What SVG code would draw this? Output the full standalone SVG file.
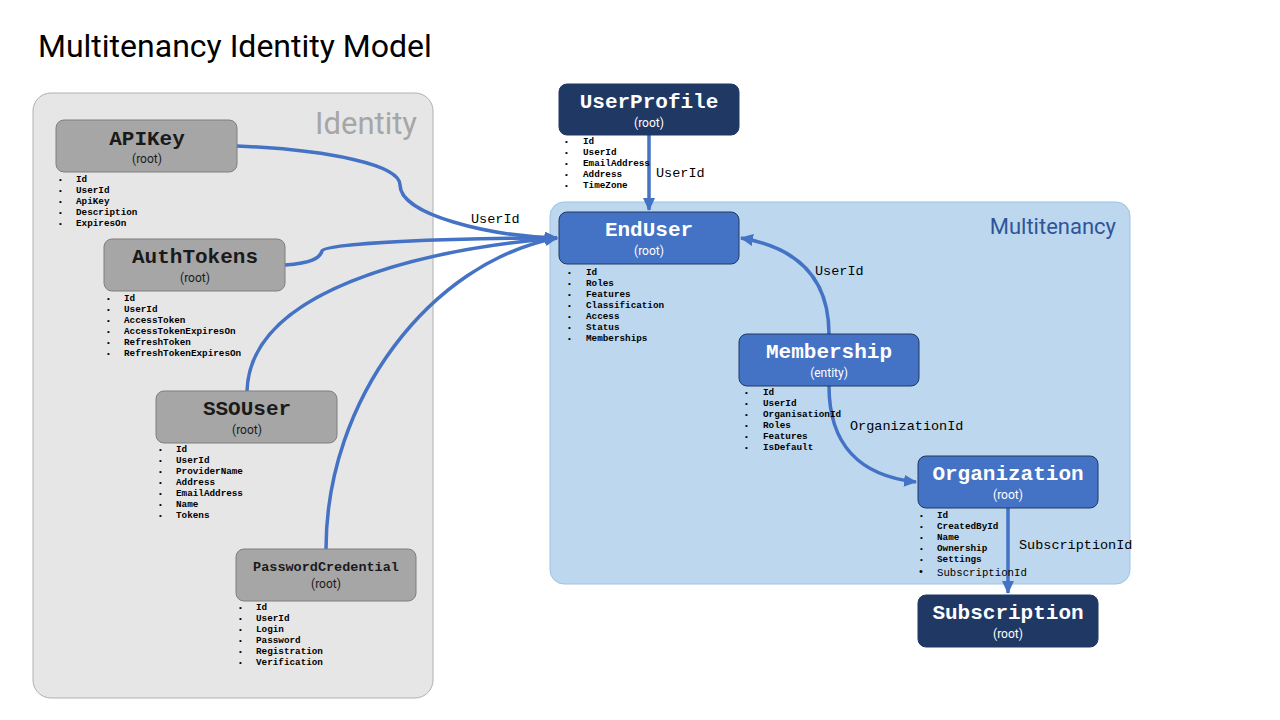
<svg xmlns="http://www.w3.org/2000/svg" width="1280" height="720" viewBox="0 0 1280 720">
<defs>
<marker id="arr" markerUnits="userSpaceOnUse" markerWidth="14" markerHeight="14" refX="12" refY="7" orient="auto">
<path d="M0,1 L13,7 L0,13 Z" fill="#4472c4"/>
</marker>
<style>
.title{font-family:Roboto,"Liberation Sans",sans-serif;font-size:32px;fill:#000}
.grp{font-family:Roboto,"Liberation Sans",sans-serif}
.gray rect{fill:#a6a6a6;stroke:#7f7f7f;stroke-width:1}
.blue rect{fill:#4472c4;stroke:#203864;stroke-width:1}
.navy rect{fill:#203864;stroke:#203864;stroke-width:1}
.nm{font-family:"Liberation Mono","Courier New",monospace;font-weight:bold;font-size:21px;text-anchor:middle}
.sub{font-family:Roboto,"Liberation Sans",sans-serif;font-size:12px;text-anchor:middle}
.gray .nm,.gray .sub{fill:#1a1a1a}
.blue .nm,.blue .sub,.navy .nm,.navy .sub{fill:#fff}
.attr text{font-family:"Liberation Mono","Courier New",monospace;font-weight:bold;font-size:9.3px;fill:#000}
.bul text{font-family:"Liberation Sans",Arial,sans-serif;font-size:8px;fill:#000}
.conn path{fill:none;stroke:#4472c4;stroke-width:3.5}
.lbl{font-family:"Liberation Mono","Courier New",monospace;font-size:13.5px;fill:#000}
</style>
</defs>
<rect width="1280" height="720" fill="#fff"/>
<text class="title" x="38" y="57">Multitenancy Identity Model</text>

<g id="identity-group">
<rect x="33" y="93" width="400" height="605" rx="18" fill="#e6e6e6" stroke="#b0b0b0" stroke-width="1"/>
<text class="grp" x="417" y="134" font-size="31" fill="#a6a6a6" text-anchor="end">Identity</text>
</g>
<g id="multitenancy-group">
<rect x="550" y="202" width="580" height="382" rx="14" fill="#bdd7ee" stroke="#9dc3e6" stroke-width="1"/>
<text class="grp" x="1116" y="234" font-size="22" fill="#2f5597" text-anchor="end">Multitenancy</text>
</g>

<g id="connectors" class="conn">
<path d="M237,146 C330,150 400,165 400,185 C400,215 490,236 557,238" marker-end="url(#arr)"/>
<path d="M285,265 C312,263 320,258 322,251 C325,243 450,238 557,238" marker-end="url(#arr)"/>
<path d="M247,391 C250,290 420,250 557,238" marker-end="url(#arr)"/>
<path d="M326,549 C326,400 430,262 557,238" marker-end="url(#arr)"/>
<path d="M649,135 L649,210" marker-end="url(#arr)"/>
<path d="M829,334 C829,280 800,248 741,238" marker-end="url(#arr)"/>
<path d="M829,386 C829,445 860,476 916,482" marker-end="url(#arr)"/>
<path d="M1008,508 L1008,593" marker-end="url(#arr)"/>
<text class="lbl" x="471" y="223">UserId</text>
<text class="lbl" x="656" y="177">UserId</text>
<text class="lbl" x="815" y="275">UserId</text>
<text class="lbl" x="850" y="430">OrganizationId</text>
<text class="lbl" x="1019" y="549">SubscriptionId</text>
</g>

<g id="APIKey" class="gray">
<rect x="56" y="120" width="181" height="52" rx="8"/>
<text class="nm" x="147" y="145">APIKey</text>
<text class="sub" x="147" y="163">(root)</text>
<g class="bul"><text x="59" y="182">•</text><text x="59" y="193">•</text><text x="59" y="204">•</text><text x="59" y="215">•</text><text x="59" y="226">•</text></g>
<g class="attr"><text x="76" y="182">Id</text><text x="76" y="193">UserId</text><text x="76" y="204">ApiKey</text><text x="76" y="215">Description</text><text x="76" y="226">ExpiresOn</text></g>
</g>

<g id="AuthTokens" class="gray">
<rect x="104" y="239" width="181" height="52" rx="8"/>
<text class="nm" x="195" y="263">AuthTokens</text>
<text class="sub" x="195" y="282">(root)</text>
<g class="bul"><text x="107" y="301">•</text><text x="107" y="312">•</text><text x="107" y="323">•</text><text x="107" y="334">•</text><text x="107" y="345">•</text><text x="107" y="356">•</text></g>
<g class="attr"><text x="124" y="301">Id</text><text x="124" y="312">UserId</text><text x="124" y="323">AccessToken</text><text x="124" y="334">AccessTokenExpiresOn</text><text x="124" y="345">RefreshToken</text><text x="124" y="356">RefreshTokenExpiresOn</text></g>
</g>

<g id="SSOUser" class="gray">
<rect x="156" y="391" width="181" height="52" rx="8"/>
<text class="nm" x="247" y="415">SSOUser</text>
<text class="sub" x="247" y="434">(root)</text>
<g class="bul"><text x="159" y="452">•</text><text x="159" y="463">•</text><text x="159" y="474">•</text><text x="159" y="485">•</text><text x="159" y="496">•</text><text x="159" y="507">•</text><text x="159" y="518">•</text></g>
<g class="attr"><text x="176" y="452">Id</text><text x="176" y="463">UserId</text><text x="176" y="474">ProviderName</text><text x="176" y="485">Address</text><text x="176" y="496">EmailAddress</text><text x="176" y="507">Name</text><text x="176" y="518">Tokens</text></g>
</g>

<g id="PasswordCredential" class="gray">
<rect x="236" y="549" width="180" height="52" rx="8"/>
<text class="nm" x="326" y="571" style="font-size:13.5px">PasswordCredential</text>
<text class="sub" x="326" y="588">(root)</text>
<g class="bul"><text x="239" y="610">•</text><text x="239" y="621">•</text><text x="239" y="632">•</text><text x="239" y="643">•</text><text x="239" y="654">•</text><text x="239" y="665">•</text></g>
<g class="attr"><text x="256" y="610">Id</text><text x="256" y="621">UserId</text><text x="256" y="632">Login</text><text x="256" y="643">Password</text><text x="256" y="654">Registration</text><text x="256" y="665">Verification</text></g>
</g>

<g id="UserProfile" class="navy">
<rect x="559" y="84" width="180" height="51" rx="8"/>
<text class="nm" x="649" y="108">UserProfile</text>
<text class="sub" x="649" y="127">(root)</text>
<g class="bul"><text x="565" y="144">•</text><text x="565" y="155">•</text><text x="565" y="166">•</text><text x="565" y="177">•</text><text x="565" y="188">•</text></g>
<g class="attr"><text x="583" y="144">Id</text><text x="583" y="155">UserId</text><text x="583" y="166">EmailAddress</text><text x="583" y="177">Address</text><text x="583" y="188">TimeZone</text></g>
</g>

<g id="EndUser" class="blue">
<rect x="559" y="212" width="180" height="52" rx="8"/>
<text class="nm" x="649" y="236">EndUser</text>
<text class="sub" x="649" y="255">(root)</text>
<g class="bul"><text x="568" y="275">•</text><text x="568" y="286">•</text><text x="568" y="297">•</text><text x="568" y="308">•</text><text x="568" y="319">•</text><text x="568" y="330">•</text><text x="568" y="341">•</text></g>
<g class="attr"><text x="586" y="275">Id</text><text x="586" y="286">Roles</text><text x="586" y="297">Features</text><text x="586" y="308">Classification</text><text x="586" y="319">Access</text><text x="586" y="330">Status</text><text x="586" y="341">Memberships</text></g>
</g>

<g id="Membership" class="blue">
<rect x="739" y="334" width="180" height="52" rx="8"/>
<text class="nm" x="829" y="358">Membership</text>
<text class="sub" x="829" y="377">(entity)</text>
<g class="bul"><text x="745" y="395">•</text><text x="745" y="406">•</text><text x="745" y="417">•</text><text x="745" y="428">•</text><text x="745" y="439">•</text><text x="745" y="450">•</text></g>
<g class="attr"><text x="763" y="395">Id</text><text x="763" y="406">UserId</text><text x="763" y="417">OrganisationId</text><text x="763" y="428">Roles</text><text x="763" y="439">Features</text><text x="763" y="450">IsDefault</text></g>
</g>

<g id="Organization" class="blue">
<rect x="918" y="456" width="180" height="52" rx="8"/>
<text class="nm" x="1008" y="480">Organization</text>
<text class="sub" x="1008" y="499">(root)</text>
<g class="bul"><text x="920" y="518">•</text><text x="920" y="529">•</text><text x="920" y="540">•</text><text x="920" y="551">•</text><text x="920" y="562">•</text><text x="919" y="575" style="font-size:11px">•</text></g>
<g class="attr"><text x="937" y="518">Id</text><text x="937" y="529">CreatedById</text><text x="937" y="540">Name</text><text x="937" y="551">Ownership</text><text x="937" y="562">Settings</text><text x="937" y="576" style="font-weight:normal;font-size:10.7px">SubscriptionId</text></g>
</g>

<g id="Subscription" class="navy">
<rect x="918" y="595" width="180" height="52" rx="8"/>
<text class="nm" x="1008" y="619">Subscription</text>
<text class="sub" x="1008" y="638">(root)</text>
</g>
</svg>
